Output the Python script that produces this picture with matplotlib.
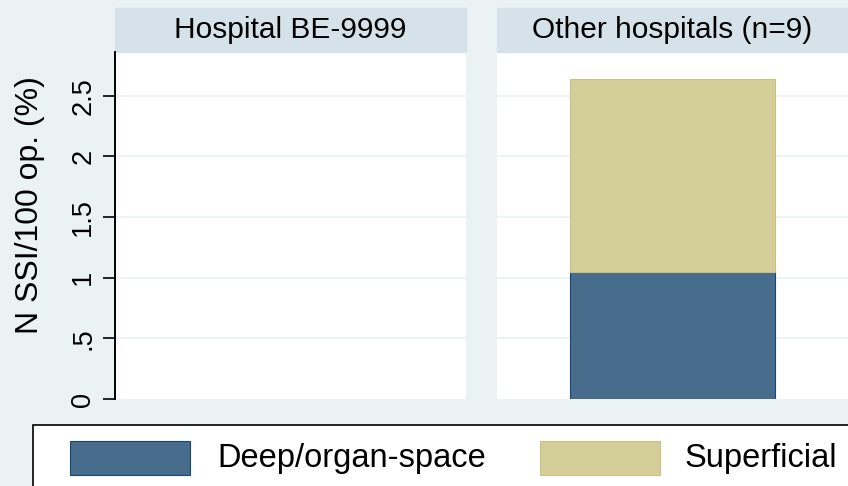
import matplotlib
matplotlib.use("Agg")
import matplotlib.pyplot as plt
import numpy as np
from matplotlib.patches import Rectangle

# --- data ---
panels = ["Hospital BE-9999", "Other hospitals (n=9)"]
series = ["Deep/organ-space", "Superficial"]
deep = [np.nan, 1.05]
superficial = [np.nan, 1.59]
yticks = [0, 0.5, 1, 1.5, 2, 2.5]
yticklabels = ["0", ".5", "1", "1.5", "2", "2.5"]

colors = ["#486C8C", "#D4CF98"]
edges = ["#1A476F", "#C8C184"]
bg = "#EAF2F3"
strip = "#D6E2E9"

plt.rcParams["font.family"] = ["Liberation Sans", "DejaVu Sans"]

W, H = 848, 486
fig = plt.figure(figsize=(W / 100, H / 100), dpi=100, facecolor=bg)


def px_box(x0, y0, x1, y1):
    """Pixel box (top-left origin) to figure fraction rect."""
    return [x0 / W, 1 - y1 / H, (x1 - x0) / W, (y1 - y0) / H]


axes = [fig.add_axes(px_box(115, 52, 466, 399)), fig.add_axes(px_box(497, 52, 848, 399))]

for i, ax in enumerate(axes):
    ax.set_facecolor("white")
    ax.set_xlim(-0.5, 0.5)
    ax.set_ylim(0, 2.86)
    for y in yticks[1:]:
        ax.axhline(y, color=bg, lw=1.2, zorder=1)
    ax.bar([0], [deep[i]], width=0.584, color=colors[0], edgecolor=edges[0], lw=0.8, zorder=2)
    ax.bar([0], [superficial[i]], bottom=[deep[i]], width=0.584, color=colors[1],
           edgecolor=edges[1], lw=0.8, zorder=2)
    ax.set_xticks([])
    for s in ["top", "right", "bottom"]:
        ax.spines[s].set_visible(False)

    # title strip
    strip_h = 44 / 347
    ax.add_patch(Rectangle((0, 1), 1, strip_h, transform=ax.transAxes, color=strip,
                           clip_on=False, zorder=0))
    ax.text(0.5, 1 + 22 / 347, panels[i], transform=ax.transAxes, ha="center", va="center",
            fontsize=21.5)

axes[0].spines["left"].set_linewidth(1.4)
axes[0].set_yticks(yticks)
axes[0].set_yticklabels(yticklabels, rotation=90, va="center", fontsize=19.5)
axes[0].tick_params(axis="y", length=8.5, width=1.2, pad=5)
axes[1].spines["left"].set_visible(False)
axes[1].set_yticks([])

fig.text(30 / W, 1 - 205 / H, "N SSI/100 op. (%)", rotation=90, ha="center", va="center",
         fontsize=23)

# --- legend box ---
fig.patches.append(Rectangle((33 / W, -0.1), 1.0, 1 - 425 / H + 0.1, transform=fig.transFigure,
                             facecolor="white", edgecolor="black", lw=1.2, zorder=0))
key_x = [70, 540]
text_x = [217, 685]
for i, name in enumerate(series):
    x0, y0, x1, y1 = key_x[i], 441, key_x[i] + 120, 475
    fig.patches.append(Rectangle((x0 / W, 1 - y1 / H), (x1 - x0) / W, (y1 - y0) / H,
                                 transform=fig.transFigure, facecolor=colors[i],
                                 edgecolor=edges[i], lw=0.8))
    fig.text(text_x[i] / W, 1 - 458 / H, name, ha="left", va="center", fontsize=23.5)

fig.savefig("out.png", dpi=100, facecolor=bg)
